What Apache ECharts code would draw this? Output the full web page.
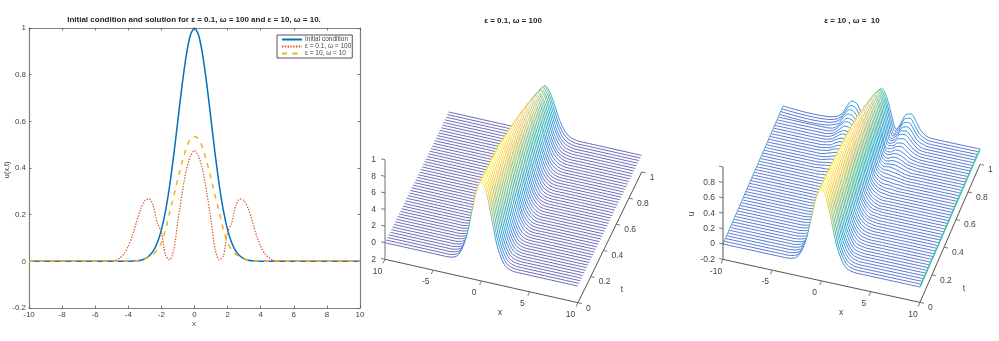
<!DOCTYPE html>
<html><head><meta charset="utf-8">
<style>html,body{margin:0;padding:0;background:#fff}#c{width:999px;height:341px;filter:blur(.45px)}</style>
<script src="https://cdn.jsdelivr.net/npm/echarts@6/dist/echarts.min.js"></script>
</head><body><div id="c"></div>
<script>
// 2-D panel: values read at |x| (curves are mirror images around x = 0)
const curveX   = [0,.25,.5,.75,1,1.25,1.5,1.75,2,2.25,2.5,2.75,3,3.25,3.5,3.75,4,4.25,4.5,4.75,5,10];
const initial  = [1,.969,.882,.755,.607,.458,.325,.216,.135,.08,.044,.023,.011,.005,.002,.001,0,0,0,0,0,0];
const eps01    = [.475,.45,.39,.29,.175,.05,.006,.025,.125,.165,.24,.268,.26,.225,.17,.11,.065,.033,.015,.005,.001,0];
const eps10    = [.535,.525,.485,.425,.355,.28,.21,.135,.08,.05,.03,.02,.01,.005,.002,0,0,0,0,0,0,0];
const curveNames = ['Initial condition','\u03b5 = 0.1, \u03c9 = 100','\u03b5 = 10, \u03c9 = 10'];
// Waterfalls: one row per t line (t = 0, .02 ... 1), heights at |x| = 0,.5,1,...; omitted = 0
const rowX = [0,.5,1,1.5,2,2.5,3,3.5,4,4.5,5];
const midRows = [
[1,.88,.61,.32,.14,.04,.01],[1,.88,.61,.32,.14,.04,.01],[1,.88,.61,.32,.14,.04,.01],[1,.88,.61,.32,.14,.04,.01],
[1,.88,.61,.32,.14,.04,.01],[.99,.87,.60,.32,.14,.04,.01],[.99,.87,.60,.32,.14,.04,.01],[.99,.87,.60,.32,.14,.04,.01],
[.99,.87,.60,.32,.14,.04,.01],[.99,.87,.60,.32,.14,.04,.01],[.98,.87,.60,.32,.14,.04,.01],[.98,.87,.60,.32,.14,.04,.01],
[.98,.87,.60,.32,.14,.04,.01],[.98,.87,.60,.32,.14,.04,.01],[.98,.87,.61,.33,.15,.05,.01],[.98,.87,.61,.33,.15,.05,.01],
[.97,.86,.60,.33,.15,.05,.01],[.96,.85,.60,.33,.14,.05,.01],[.95,.84,.59,.32,.14,.05,.01],[.95,.84,.59,.32,.14,.05,.01],
[.94,.83,.58,.32,.14,.05,.01],[.93,.82,.58,.32,.14,.05,.01],[.93,.82,.58,.32,.14,.05,.01],[.92,.81,.57,.31,.14,.05,.01],
[.91,.81,.56,.31,.14,.05,.01],[.90,.80,.56,.31,.14,.05,.01],[.89,.79,.55,.30,.13,.04,.01],[.88,.78,.55,.30,.13,.04,.01],
[.87,.77,.54,.30,.13,.04,.01],[.86,.76,.53,.29,.13,.04,.01],[.85,.75,.53,.29,.13,.04,.01],[.84,.74,.52,.29,.13,.04,.01],
[.83,.73,.51,.28,.12,.04,.01],[.82,.73,.51,.28,.12,.04,.01],[.81,.72,.50,.28,.12,.04,.01],[.79,.70,.49,.27,.12,.04,.01],
[.78,.69,.48,.27,.12,.04,.01],[.77,.68,.48,.26,.12,.04,.01],[.76,.67,.47,.26,.11,.04,.01],[.75,.66,.47,.26,.11,.04,.01],
[.73,.65,.45,.25,.11,.04,.01],[.72,.64,.45,.24,.11,.04,.01],[.71,.63,.44,.24,.11,.04,.01],[.69,.61,.43,.23,.10,.03,.01],
[.68,.60,.42,.23,.10,.03,.01],[.66,.58,.41,.22,.10,.03,.01],[.65,.58,.40,.22,.10,.03,.01],[.63,.56,.39,.21,.09,.03,.01],
[.62,.55,.38,.21,.09,.03,.01],[.60,.53,.37,.20,.09,.03,.01],[.58,.51,.36,.20,.09,.03,.01]];
const rightRows = [
[1,.88,.61,.32,.14,.04,.01],[1,.88,.61,.31,.14,.04,.01],[1,.88,.60,.31,.13,.04,.01],[1,.88,.60,.30,.13,.04,.01],
[1,.87,.60,.30,.13,.04,.01],[.99,.87,.58,.29,.13,.04,.01],[.99,.86,.58,.28,.12,.03,.01],[.99,.86,.57,.28,.12,.03,.01],
[.98,.85,.56,.27,.12,.03,.01],[.98,.85,.56,.27,.11,.03,.01],[.98,.85,.55,.26,.11,.03,.01],[.97,.84,.54,.25,.11,.03,.01],
[.97,.84,.54,.25,.10,.03,.01],[.97,.84,.54,.24,.10,.03,.01],[.96,.83,.53,.23,.10,.03,.01],[.96,.83,.52,.23,.09,.03,.01],
[.95,.82,.51,.22,.09,.03,.01],[.95,.82,.51,.22,.09,.03,.01],[.94,.81,.50,.21,.08,.03,.01],[.94,.81,.49,.20,.08,.02,.01],
[.93,.80,.49,.20,.08,.02,.01],[.92,.79,.48,.19,.08,.02,.01],[.92,.79,.47,.18,.07,.02,.01],[.91,.78,.46,.18,.07,.02,0],
[.90,.77,.45,.17,.07,.02,0],[.89,.76,.45,.17,.06,.02,0],[.89,.76,.44,.16,.06,.02,0],[.88,.75,.43,.15,.06,.02,0],
[.87,.74,.42,.15,.06,.02,.01],[.86,.73,.41,.14,.05,.02,.01],[.85,.72,.41,.14,.05,.02,.01,.01],[.84,.71,.40,.13,.05,.02,.02,.01],
[.82,.69,.39,.12,.05,.03,.02,.01,.01],[.81,.68,.38,.12,.05,.03,.03,.02,.01],[.80,.67,.37,.11,.05,.04,.03,.02,.01],[.78,.65,.36,.10,.05,.05,.04,.03,.01],
[.77,.64,.35,.10,.05,.06,.05,.03,.01],[.75,.63,.34,.09,.05,.06,.06,.04,.02],[.74,.62,.33,.09,.05,.07,.07,.05,.02,.01],[.72,.60,.32,.08,.05,.08,.08,.05,.02,.01],
[.71,.59,.31,.08,.06,.09,.09,.06,.02,.01],[.69,.57,.30,.07,.06,.10,.10,.07,.03,.01],[.67,.56,.28,.06,.07,.11,.12,.08,.03,.01],[.66,.55,.28,.06,.07,.12,.13,.09,.04,.01],
[.64,.53,.27,.05,.08,.14,.15,.10,.04,.01],[.62,.51,.26,.05,.08,.16,.17,.12,.05,.01],[.60,.50,.25,.04,.09,.17,.18,.12,.05,.01],[.58,.48,.24,.04,.09,.18,.20,.14,.05,.02],
[.56,.46,.23,.03,.10,.20,.22,.15,.06,.02],[.53,.44,.21,.03,.11,.22,.24,.16,.06,.02],[.51,.42,.20,.02,.12,.24,.26,.18,.07,.02]];
const xTicks3d = [-10,-5,0,5,10];
const tTicks3d = [0,.2,.4,.6,.8,1];
const uTicks3d = [-.2,0,.2,.4,.6,.8,1];
const tLabels3d = ['0','0.2','0.4','0.6','0.8','1'];
const midXLabels = ['10','-5','0','5','10'];
const midULabels = ['2','0','2','4','6','8','1'];
const rightXLabels = ['-10','-5','0','5','10'];
const rightULabels = ['-0.2','0','0.2','0.4','0.6','0.8',''];
const edgeT = [0,1];

// --- layout & style ---
const TXT='#444', FONT='"Liberation Sans",Arial,sans-serif';
const views = {
  mid:{o:[385,242.7],xv:[193,43.4],tv:[63.7,-130.7],uk:-83, umin:0,   umax:1},
  right:{o:[723,244],xv:[197,43],tv:[60,-138],uk:-77, umin:-.08, umax:1}
};
const proj=(v,x,t,u)=>[v.o[0]+v.xv[0]*(x+10)/20+v.tv[0]*t, 341-(v.o[1]+v.xv[1]*(x+10)/20+v.tv[1]*t+v.uk*u)];
const parula=['#5F5FB5','#3F78E0','#2A8CDC','#12A8CC','#2EB7A4','#87BF77','#E0BE59','#FEC832','#F9FB0E'];
const hex=c=>[1,3,5].map(i=>parseInt(c.substr(i,2),16));
function cmap(f){f=Math.max(0,Math.min(1,f))*8;const i=Math.min(7,Math.floor(f)),a=hex(parula[i]),b=hex(parula[i+1]),k=f-i;
  return 'rgb('+a.map((p,j)=>Math.round(p+(b[j]-p)*k)).join(',')+')';}

const rowFullX=[...rowX.slice(1).reverse().map(x=>-x),...rowX];
const fullX=[-10,...rowFullX,10];
const rowAt=(row,x)=>{const j=rowX.indexOf(Math.abs(x));return j<0?0:(row[j]||0);};
const mirror=(xs,ys)=>{const out=[];for(let i=xs.length-1;i>0;i--)out.push([-xs[i],ys[i]]);for(let i=0;i<xs.length;i++)out.push([xs[i],ys[i]]);return out;};

const series=[];
curveNames.forEach((n,i)=>{
  series.push({name:n,type:'line',xAxisIndex:0,yAxisIndex:0,symbol:'none',smooth:.25,silent:true,animation:false,z:[3,4,5][i],
    data:mirror(curveX,[initial,eps01,eps10][i]),
    itemStyle:{color:['#0072BD','#D95319','#EDB120'][i]},
    lineStyle:[{color:'#0072BD',width:1.5},{color:'#D95319',width:1.2,type:[1.4,1.4]},{color:'#EDB120',width:1.5,type:[5,5.5]}][i]});
});
const XI=2,YI=2;
function waterfall(v,rows){
  for(let i=rows.length-1;i>=0;i--){
    const t=i/(rows.length-1), us=fullX.map(x=>rowAt(rows[i],x));
    const stops=fullX.map((x,j)=>({offset:(x+10)/20,color:cmap((us[j]-v.umin)/(v.umax-v.umin))}));
    series.push({type:'line',xAxisIndex:XI,yAxisIndex:YI,symbol:'none',smooth:.3,silent:true,animation:false,z:10+(rows.length-i),
      data:fullX.map((x,j)=>proj(v,x,t,us[j])),
      lineStyle:{width:.95,color:{type:'linear',x:0,y:0,x2:1,y2:0,colorStops:stops}},
      areaStyle:{color:'#fff',opacity:1,origin:'start'}});
  }
}
waterfall(views.mid,midRows);
waterfall(views.right,rightRows);
// teal curtain edges of the right waterfall
[[-10,.9,'#4b9fc6'],[10,1.6,'#3fc2a6']].forEach(e=>series.push({type:'line',xAxisIndex:XI,yAxisIndex:YI,symbol:'none',silent:true,animation:false,z:80,
  data:edgeT.map(t=>proj(views.right,e[0],t,0)),lineStyle:{color:e[2],width:e[1]}}));
const seg=(pts,col,w)=>series.push({type:'line',xAxisIndex:XI,yAxisIndex:YI,symbol:'none',silent:true,animation:false,z:90,data:pts,lineStyle:{color:col,width:w}});
const texts=[];
const label=(s,x,y,align,size,rot)=>texts.push({type:'text',x,y,rotation:rot||0,z:100,silent:true,
  style:{text:s,x:0,y:0,align:align||'center',verticalAlign:'middle',fill:TXT,font:(size||8.5)+'px '+FONT}});
function axes3d(v,xL,uL,axisCol,axisW,xOff,tOff,uRight,xName,tName,uName){
  const U=-.2;
  seg(uTicks3d.map(u=>proj(v,-10,0,u)),axisCol,axisW);
  seg(xTicks3d.map(x=>proj(v,x,0,U)),'#555',1);
  seg(tTicks3d.map(t=>proj(v,10,t,U)),'#555',1);
  uTicks3d.forEach((u,i)=>{seg([proj(v,-10,0,u),proj(v,-10.4,0,u)],'#555',.8);
    if(uL[i]){const p=proj(v,-10,0,u);label(uL[i],uRight,341-p[1],'right');}});
  xTicks3d.forEach((x,i)=>{seg([proj(v,x,0,U),proj(v,x,-.03,U)],'#555',.8);
    const p=proj(v,x,0,U);label(xL[i],p[0]+xOff[0],341-p[1]+xOff[1]);});
  tTicks3d.forEach((t,i)=>{seg([proj(v,10,t,U),proj(v,10.4,t,U)],'#555',.8);
    const p=proj(v,10,t,U);label(tLabels3d[i],p[0]+tOff[0],341-p[1]+tOff[1],'left');});
  label('x',xName[0],xName[1]);label('t',tName[0],tName[1]);
  if(uName)label('u',uName[0],uName[1],'center',8.5,Math.PI/2);
}
axes3d(views.mid,midXLabels,midULabels,'#999',1.4,[-7.5,12],[8,5.5],376,[500,312.5],[622,290],null);
axes3d(views.right,rightXLabels,rightULabels,'#444',.9,[-7,12],[8,5.5],715,[841,312.5],[964,288.5],[692,214]);
label('u(x,t)',7,170,'center',7.5,Math.PI/2);
label('x',194,324,'center',8);

const ttl=(text,left,top)=>({text,left,top,textAlign:'center',padding:0,textStyle:{fontFamily:FONT,fontSize:8,fontWeight:'bold',color:'#222',lineHeight:10}});
const tk={inside:true,length:2.5,lineStyle:{color:'#555',width:.8}};
const al={lineStyle:{color:'#808080',width:1.2},onZero:false};
const lb={color:TXT,fontFamily:FONT,fontSize:8,margin:3,hideOverlap:false};
const opt={
  animation:false,backgroundColor:'#fff',
  title:[ttl('Initial condition and solution for \u03b5 = 0.1, \u03c9 = 100 and \u03b5 = 10, \u03c9 = 10.',194,15),
         ttl('\u03b5 = 0.1, \u03c9 = 100',513,16),ttl('\u03b5 = 10 , \u03c9 =  10',852,16)],
  grid:[{left:29,top:28,width:331,height:280,containLabel:false},{left:0,top:0,width:999,height:341,show:false}],
  xAxis:[
    {type:'value',gridIndex:0,min:-10,max:10,interval:2,axisLine:al,axisTick:tk,axisLabel:lb,splitLine:{show:false}},
    {type:'value',gridIndex:0,position:'top',min:-10,max:10,interval:2,axisLine:al,axisTick:tk,axisLabel:{show:false},splitLine:{show:false}},
    {type:'value',gridIndex:1,min:0,max:999,show:false,splitLine:{show:false}}],
  yAxis:[
    {type:'value',gridIndex:0,min:-.2,max:1,interval:.2,axisLine:al,axisTick:tk,axisLabel:lb,splitLine:{show:false}},
    {type:'value',gridIndex:0,position:'right',min:-.2,max:1,interval:.2,axisLine:al,axisTick:tk,axisLabel:{show:false},splitLine:{show:false}},
    {type:'value',gridIndex:1,min:0,max:341,show:false,splitLine:{show:false}}],
  legend:{data:curveNames,left:277,top:35,orient:'vertical',itemWidth:20,itemHeight:8,itemGap:0,padding:[1,1,1,4],
    itemStyle:{opacity:0,borderWidth:0},
    backgroundColor:'#fff',borderColor:'#555',borderWidth:1,selectedMode:false,
    textStyle:{color:TXT,fontFamily:FONT,fontSize:6.5,padding:[0,0,0,-2]}},
  graphic:{elements:texts},
  series
};
echarts.init(document.getElementById('c'),null,{renderer:'canvas'}).setOption(opt);
</script></body></html>
